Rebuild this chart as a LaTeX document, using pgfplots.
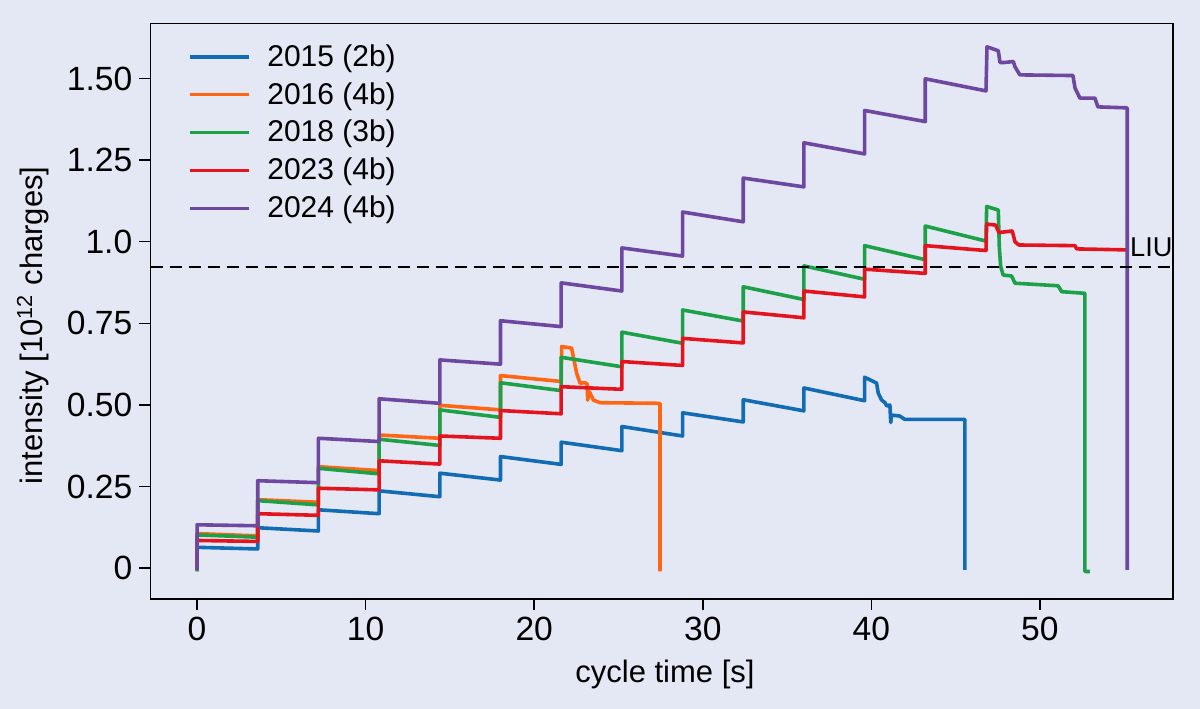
\documentclass[border=0pt]{standalone}
\usepackage{fontspec}
\setmainfont{Liberation Sans}
\usepackage{pgfplots}
\pgfplotsset{compat=1.18}

\definecolor{bgc}{RGB}{228,232,244}
\definecolor{c15}{RGB}{18,108,180}
\definecolor{c16}{RGB}{255,102,20}
\definecolor{c18}{RGB}{28,160,72}
\definecolor{c23}{RGB}{228,20,30}
\definecolor{c24}{RGB}{110,72,160}

\begin{document}
\begin{tikzpicture}
\fill[bgc] (-75.35pt,-55pt) rectangle (524.65pt,299.45pt);
\begin{axis}[
    at={(0,0)}, anchor=south west,
    scale only axis, width=511.2pt, height=287.8pt,
    xmin=-2.75, xmax=57.9, ymin=-0.094, ymax=1.669,
    axis line style={black, line width=0.75pt},
    tick style={black, line width=0.75pt},
    tick align=outside, major tick length=5.7pt,
    xtick pos=bottom, ytick pos=left,
    xtick={0,10,20,30,40,50},
    ytick={0,0.25,0.5,0.75,1.0,1.25,1.5},
    yticklabels={0,0.25,0.50,0.75,1.0,1.25,1.50},
    /pgf/number format/assume math mode=true,
    tick label style={font=\fontsize{16.8}{19}\selectfont},
    xlabel={cycle time [s]},
    ylabel={intensity [10\textsuperscript{12} charges]},
    label style={font=\fontsize{15.5}{18}\selectfont},
    xlabel style={at={(axis description cs:0.503,-0.132)}, anchor=center},
    ylabel style={at={(axis description cs:-0.1151,0.475)}, anchor=center},
    every axis plot/.append style={line width=1.8pt, line join=round},
    legend cell align=left,
    legend style={draw=none, fill=none, at={(axis description cs:0.03,0.978)},
        anchor=north west, font=\fontsize{15}{17}\selectfont, row sep=2.6pt},
    legend image code/.code={\draw[#1] (0pt,0pt) -- (29.5pt,0pt);
        \path (36pt,0pt);},
]
% 2015 (2b)
\addplot[c15] coordinates {
(0,-0.005)(0,0.064)(3.6,0.059)(3.6,0.124)(7.2,0.114)(7.2,0.179)(10.8,0.167)
(10.8,0.237)(14.4,0.219)(14.4,0.291)(18,0.270)(18,0.342)(21.6,0.318)
(21.6,0.386)(25.2,0.360)(25.2,0.434)(28.8,0.405)(28.8,0.476)(32.4,0.448)
(32.4,0.516)(36,0.482)(36,0.552)(39.6,0.513)(39.6,0.585)(40.31,0.567)
(40.41,0.536)(40.61,0.515)(40.81,0.507)(40.91,0.497)(41.10,0.500)
(41.15,0.446)(41.20,0.469)(41.69,0.466)(41.98,0.456)(45.55,0.456)(45.55,-0.005)
};
\addlegendentry{2015 (2b)}
% 2016 (4b)
\addplot[c16] coordinates {
(0,-0.01)(0,0.106)(3.6,0.099)(3.6,0.210)(7.2,0.202)(7.2,0.311)(10.8,0.299)
(10.8,0.408)(14.4,0.398)(14.4,0.499)(18,0.485)(18,0.590)(21.6,0.572)
(21.63,0.679)(22.22,0.674)(22.32,0.648)(22.52,0.597)(22.72,0.567)(23.01,0.568)
(23.15,0.564)(23.17,0.515)(23.27,0.541)(23.51,0.515)(23.90,0.507)(27.46,0.505)
(27.46,-0.01)
};
\addlegendentry{2016 (4b)}
% 2018 (3b)
\addplot[c18] coordinates {
(0,-0.01)(0,0.102)(3.6,0.095)(3.6,0.207)(7.2,0.194)(7.2,0.306)(10.8,0.289)
(10.8,0.395)(14.4,0.376)(14.4,0.485)(18,0.462)(18,0.568)(21.6,0.544)
(21.6,0.646)(25.2,0.617)(25.2,0.723)(28.8,0.689)(28.8,0.791)(32.4,0.757)
(32.4,0.862)(36,0.823)(36,0.926)(39.6,0.885)(39.6,0.988)(43.2,0.945)
(43.2,1.048)(46.8,1.002)(46.84,1.108)(47.53,1.097)(47.59,0.985)(47.67,0.924)
(47.82,0.898)(48.32,0.895)(48.52,0.873)(51.08,0.865)(51.29,0.847)(52.67,0.842)
(52.67,-0.01)(52.97,-0.01)
};
\addlegendentry{2018 (3b)}
% 2023 (4b)
\addplot[c23] coordinates {
(0,-0.005)(0,0.085)(3.6,0.082)(3.6,0.167)(7.2,0.162)(7.2,0.245)(10.8,0.240)
(10.8,0.329)(14.4,0.319)(14.4,0.405)(18,0.398)(18,0.483)(21.6,0.473)
(21.6,0.556)(25.2,0.548)(25.2,0.633)(28.8,0.621)(28.8,0.704)(32.4,0.690)
(32.4,0.785)(36,0.767)(36,0.849)(39.6,0.831)(39.6,0.916)(43.2,0.903)
(43.2,0.988)(46.8,0.973)(46.84,1.054)(47.37,1.051)(47.57,1.028)(48.36,1.033)
(48.52,1.000)(48.75,0.990)(52.08,0.988)(52.18,0.978)(55.15,0.975)
};
\addlegendentry{2023 (4b)}
% 2024 (4b)
\addplot[c24] coordinates {
(0,-0.005)(0,0.133)(3.6,0.130)(3.6,0.268)(7.2,0.262)(7.2,0.398)(10.8,0.388)
(10.8,0.519)(14.4,0.505)(14.4,0.638)(18,0.625)(18,0.758)(21.6,0.740)
(21.6,0.874)(25.2,0.849)(25.2,0.981)(28.8,0.956)(28.8,1.091)(32.4,1.061)
(32.4,1.195)(36,1.168)(36,1.303)(39.6,1.269)(39.6,1.402)(43.2,1.368)
(43.2,1.499)(46.8,1.462)(46.86,1.597)(47.53,1.585)(47.63,1.549)(47.92,1.549)
(48.42,1.552)(48.52,1.536)(48.81,1.511)(51.96,1.509)(52.08,1.471)(52.37,1.440)
(53.26,1.440)(53.44,1.413)(55.18,1.410)(55.18,-0.005)
};
\addlegendentry{2024 (4b)}
% LIU limit
\addplot[black, line width=1pt, dash pattern=on 6pt off 3.5pt, forget plot]
  coordinates {(-2.75,0.922)(57.9,0.922)};
\node[anchor=west, inner sep=0pt, font=\fontsize{13.6}{16}\selectfont]
  at (axis cs:55.33,0.982) {LIU};
\end{axis}
\pgfresetboundingbox
\useasboundingbox (-75.35pt,-55pt) rectangle (524.65pt,299.45pt);
\end{tikzpicture}
\end{document}
